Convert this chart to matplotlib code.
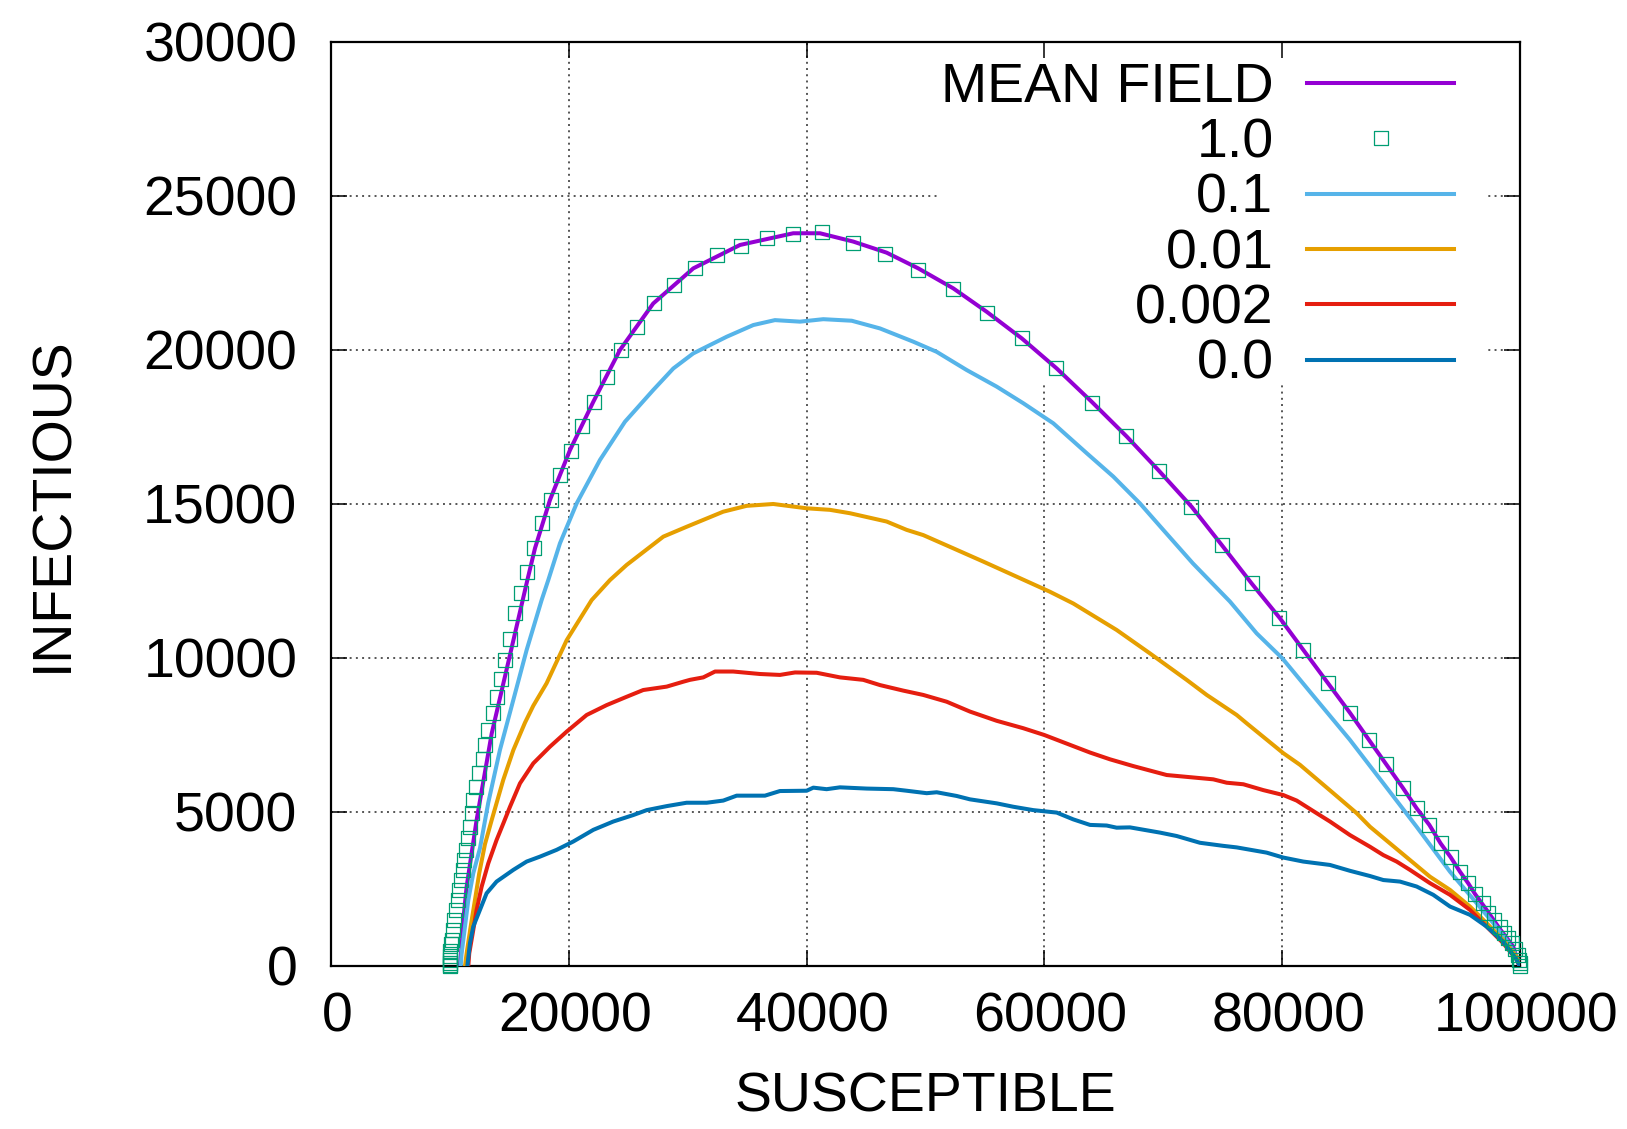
import matplotlib
matplotlib.use("Agg")
import matplotlib.pyplot as plt
from matplotlib.path import Path
from matplotlib.patches import Rectangle
from matplotlib.transforms import ScaledTranslation

plt.rcParams['font.family'] = ['Liberation Sans', 'DejaVu Sans']

# MEAN FIELD (S, I)
mf_s = [10830, 10970, 11110, 11390, 11810, 12230, 13500, 14810, 16500, 17140, 18400, 20085,
        22050, 24290, 27090, 30460, 34390, 38870, 41120, 43920, 46730, 49390, 52340, 55150,
        58090, 61040, 63980, 66930, 69590, 72390, 74920, 77440, 79820, 81790, 83750, 85710,
        87310, 88740, 90150, 91320, 92390, 93340, 94190, 94970, 95670, 96230, 97210, 98330,
        99450, 99870, 100000]
mf_i = [0, 630, 1490, 2570, 3660, 4740, 7550, 9720, 12530, 13560, 15130, 16750,
        18320, 20000, 21510, 22650, 23410, 23790, 23790, 23520, 23160, 22650, 22000, 21240,
        20380, 19400, 18320, 17190, 16100, 14910, 13670, 12420, 11290, 10260, 9240, 8220,
        7340, 6560, 5790, 5120, 4580, 3980, 3530, 3060, 2680, 2340, 1820, 1200,
        630, 90, 0]

# 1.0 (points)
p10_s = [9980, 9980, 9985, 9990, 10000, 10020, 10050, 10130, 10210, 10350, 10490, 10630,
         10770, 10910, 11060, 11190, 11330, 11480, 11670, 11810, 11950, 12170, 12450, 12740,
         12930, 13210, 13580, 13910, 14250, 14610, 15040, 15460, 15950, 16440, 17060, 17760,
         18460, 19270, 20140, 21090, 22100, 23220, 24400, 25750, 27180, 28830, 30570, 32450,
         34450, 36630, 38870, 41260, 43920, 46610, 49390, 52310, 55200, 58090, 60980, 64010,
         66840, 69620, 72360, 74970, 77470, 79740, 81790, 83890, 85710, 87310, 88740, 90150,
         91320, 92390, 93340, 94190, 94970, 95670, 96230, 96880, 97350, 97850, 98330, 98670,
         99030, 99320, 99600, 99880, 99950, 100000, 100000]
p10_i = [0, 40, 100, 200, 330, 500, 700, 840, 1170, 1490, 1820, 2140,
         2470, 2790, 3120, 3440, 3770, 4150, 4520, 4960, 5390, 5820, 6260, 6720,
         7180, 7660, 8200, 8740, 9320, 9940, 10610, 11450, 12120, 12800, 13560, 14370,
         15130, 15940, 16730, 17540, 18300, 19130, 20000, 20740, 21540, 22110, 22650, 23070,
         23390, 23640, 23770, 23820, 23480, 23120, 22600, 21980, 21210, 20380, 19430, 18290,
         17220, 16080, 14910, 13670, 12420, 11290, 10260, 9200, 8220, 7340, 6560, 5790,
         5120, 4580, 3980, 3530, 3060, 2680, 2340, 2040, 1710, 1490, 1280, 1080,
         900, 740, 540, 360, 200, 90, 0]

# 0.1
p01_s = [10890, 10970, 11250, 11530, 11950, 12510, 13210, 14190, 15320, 16440, 17700, 18260,
         19240, 20650, 22610, 24710, 27090, 28780, 30460, 33270, 35510, 37330, 39440, 41400,
         43790, 46170, 48970, 50940, 53460, 55990, 58230, 60750, 63560, 65800, 68040, 70000,
         72500, 75620, 77860, 80020, 82910, 85710, 88520, 91320, 94130, 96370, 97770, 98900,
         99740, 100000]
p01_i = [0, 410, 1280, 2140, 3010, 3820, 5300, 7010, 8640, 10260, 11880, 12530,
         13720, 15020, 16430, 17670, 18700, 19400, 19890, 20430, 20810, 20970, 20920, 21000,
         20950, 20700, 20270, 19940, 19350, 18810, 18270, 17620, 16650, 15890, 15020, 14160,
         13070, 11830, 10800, 9990, 8640, 7340, 5930, 4520, 3060, 2040, 1390, 840,
         300, 0]

# 0.01
p001_s = [11250, 11390, 11730, 12090, 12450, 12930, 13500, 14470, 15320, 16300, 17000, 18120,
          19810, 21910, 23450, 24850, 27940, 29900, 32980, 34950, 37190, 40000, 41960, 43640,
          46730, 48410, 49810, 52340, 54860, 57380, 60470, 62430, 66080, 68880, 71970, 73660,
          76180, 77020, 80100, 81510, 84310, 86280, 87400, 89080, 90760, 92440, 94130, 95810,
          97210, 98610, 99740, 100000]
p001_i = [0, 410, 1280, 2140, 3010, 3950, 4740, 6040, 7010, 7900, 8450, 9180,
          10580, 11880, 12530, 13020, 13940, 14260, 14750, 14940, 15000, 14860, 14810, 14700,
          14430, 14160, 13990, 13560, 13130, 12690, 12150, 11770, 10910, 10150, 9290, 8800,
          8150, 7880, 6910, 6530, 5610, 4960, 4520, 3980, 3440, 2900, 2470, 1930,
          1390, 840, 300, 0]

# 0.002
p0002_s = [11530, 11610, 11900, 12230, 12650, 13210, 13910, 14500, 15040, 15880, 17000, 18400,
           19810, 21490, 23170, 24850, 26250, 28220, 29620, 30180, 31300, 32290, 33820, 36070,
           37750, 39020, 40840, 42800, 44760, 46170, 48130, 49810, 51780, 53740, 55990, 58220,
           59990, 62150, 63840, 65520, 67480, 70290, 72250, 74210, 75340, 76740, 78420, 80100,
           81230, 82910, 84030, 85710, 87400, 88520, 89640, 90760, 92440, 94130, 95810, 97490,
           98610, 99740, 100000]
p0002_i = [0, 410, 1060, 1820, 2570, 3330, 4090, 4650, 5170, 5930, 6580, 7120,
           7610, 8150, 8470, 8740, 8960, 9070, 9230, 9290, 9370, 9560, 9560, 9480,
           9450, 9530, 9520, 9370, 9290, 9120, 8940, 8800, 8580, 8260, 7960, 7720,
           7500, 7180, 6930, 6710, 6490, 6200, 6130, 6060, 5950, 5900, 5710, 5550,
           5370, 4960, 4690, 4250, 3870, 3600, 3390, 3120, 2690, 2310, 1820, 1170,
           740, 200, 0]

# 0.0
p00_s = [11450, 11670, 11950, 12510, 13070, 13910, 15320, 16440, 17560, 18960, 20360, 22050,
         23730, 25410, 26540, 28220, 29900, 31590, 32980, 34110, 36490, 37750, 40000, 40560,
         41680, 42800, 45050, 47290, 48410, 50100, 50940, 52620, 53740, 55990, 57380, 59070,
         61040, 62430, 63840, 65240, 66080, 67200, 69730, 71130, 73090, 75050, 76180, 78700,
         80100, 81780, 84030, 85710, 87400, 88520, 89920, 91320, 92720, 94130, 95810, 97210,
         98610, 99740, 100000]
p00_i = [0, 740, 1280, 1820, 2360, 2740, 3120, 3390, 3550, 3770, 4040, 4420,
         4690, 4900, 5060, 5190, 5300, 5300, 5370, 5530, 5530, 5680, 5690, 5790,
         5740, 5800, 5760, 5740, 5690, 5610, 5640, 5520, 5410, 5280, 5170, 5060,
         4980, 4760, 4580, 4560, 4490, 4500, 4330, 4220, 4000, 3900, 3850, 3680,
         3520, 3390, 3280, 3090, 2920, 2790, 2740, 2580, 2310, 1930, 1660, 1280,
         790, 200, 0]

x_ticks = [0, 20000, 40000, 60000, 80000, 100000]
y_ticks = [0, 5000, 10000, 15000, 20000, 25000, 30000]

# square with a dot in the middle, like the gnuplot point
sq = Path([(-1, -1), (1, -1), (1, 1), (-1, 1), (-1, -1),
           (-0.04, -0.04), (0.04, -0.04), (0.04, 0.04), (-0.04, 0.04), (-0.04, -0.04)],
          [Path.MOVETO, Path.LINETO, Path.LINETO, Path.LINETO, Path.CLOSEPOLY,
           Path.MOVETO, Path.LINETO, Path.LINETO, Path.LINETO, Path.CLOSEPOLY])

fig = plt.figure(figsize=(16.27, 11.29), dpi=100)
ax = fig.add_axes([0.2036, 0.1444, 0.7305, 0.8184])

lw = 2.9
l_mf, = ax.plot(mf_s, mf_i, color='#9400d3', lw=lw, label='MEAN FIELD', zorder=3)
l_10, = ax.plot(p10_s, p10_i, ls='none', marker=sq, ms=10.5, mfc='none', mec='#009e73',
                mew=0.9, label='1.0', zorder=4, clip_on=False)
l_01, = ax.plot(p01_s, p01_i, color='#56b4e9', lw=lw, label='0.1', zorder=3)
l_001, = ax.plot(p001_s, p001_i, color='#e69f00', lw=lw, label='0.01', zorder=3)
l_0002, = ax.plot(p0002_s, p0002_i, color='#e51e10', lw=lw, label='0.002', zorder=3)
l_00, = ax.plot(p00_s, p00_i, color='#0072b2', lw=lw, label='0.0', zorder=3)

ax.set_xlim(0, 100000)
ax.set_ylim(0, 30000)
ax.set_xticks(x_ticks)
ax.set_yticks(y_ticks)

# dotted grid, kept under the opaque key box
for x in x_ticks[1:-1]:
    ax.axvline(x, color='#555555', lw=1.4, ls=(0, (1, 2.2)), zorder=0.5)
for y in y_ticks[1:-1]:
    ax.axhline(y, color='#555555', lw=1.4, ls=(0, (1, 2.2)), zorder=0.5)
ax.add_patch(Rectangle((0.5105, 0.6288), 0.4611, 0.3712, transform=ax.transAxes,
                       facecolor='white', edgecolor='none', zorder=1))

ax.tick_params(direction='in', length=11.5, width=1.1, top=True, right=True,
               labelsize=40, color='black')
ax.tick_params(axis='x', pad=18.5)
ax.tick_params(axis='y', pad=24.5)
for sp in ax.spines.values():
    sp.set_linewidth(1.6)

off = ScaledTranslation(6 / 100, 0, fig.dpi_scale_trans)
for lbl in ax.get_xticklabels():
    lbl.set_transform(lbl.get_transform() + off)

ax.set_xlabel('SUSCEPTIBLE', fontsize=40)
ax.set_ylabel('INFECTIOUS', fontsize=40)
ax.xaxis.set_label_coords(0.5, -0.1144)
ax.yaxis.set_label_coords(-0.2123, 0.5)

# markerfirst=False puts the sample on the right and right-justifies the texts
leg = ax.legend(handles=[l_mf, l_10, l_01, l_001, l_0002, l_00], loc='upper right',
                bbox_to_anchor=(0.9447, 0.978), frameon=False, fontsize=40,
                markerfirst=False, borderpad=0, handlelength=2.64, handletextpad=0.61,
                labelspacing=0.06, numpoints=1, borderaxespad=0)
leg.set_zorder(5)

fig.savefig('out.png', dpi=100)
